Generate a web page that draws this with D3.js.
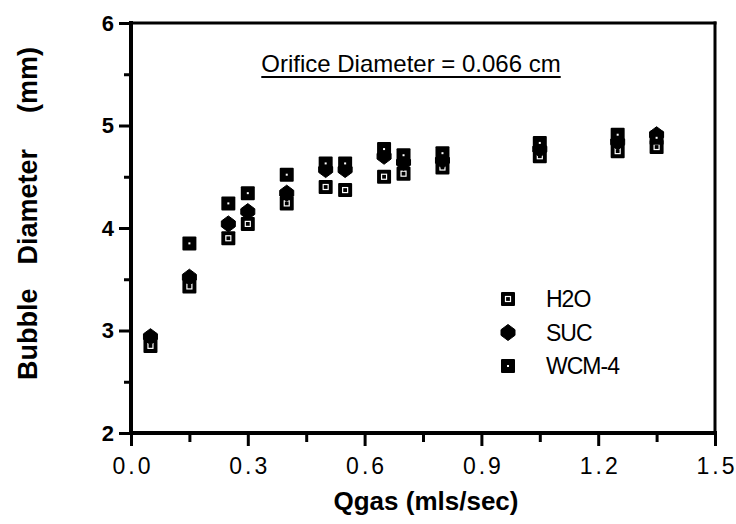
<!DOCTYPE html>
<html><head><meta charset="utf-8">
<script src="https://cdn.jsdelivr.net/npm/d3@7"></script>
<style>
html,body{margin:0;padding:0;background:#fff;}
svg{display:block;font-family:"Liberation Sans",Arial,Helvetica,sans-serif;}
</style></head><body>
<svg id="chart" width="736" height="524"></svg>
<script>
// Bubble diameter (mm) versus gas flow rate (mls/sec)
const qgas    = [0.05, 0.15, 0.25, 0.30, 0.40, 0.50, 0.55, 0.65, 0.70, 0.80, 1.05, 1.25, 1.35];
const h2o     = [2.85, 3.43, 3.90, 4.04, 4.24, 4.40, 4.37, 4.50, 4.53, 4.59, 4.70, 4.75, 4.79];
const suc     = [2.94, 3.52, 4.04, 4.16, 4.34, 4.57, 4.57, 4.70, 4.64, 4.66, 4.77, 4.84, 4.91];
const wcmQgas = [0.15, 0.25, 0.30, 0.40, 0.50, 0.55, 0.65, 0.70, 0.80, 1.05, 1.25, 1.35];
const wcm     = [3.85, 4.24, 4.34, 4.52, 4.63, 4.63, 4.77, 4.71, 4.73, 4.83, 4.91, 4.88];

const seriesNames = ["H2O", "SUC", "WCM-4"];
const xMajorTicks = [0, 0.3, 0.6, 0.9, 1.2, 1.5];
const xMinorTicks = [0.15, 0.45, 0.75, 1.05, 1.35];
const yMajorTicks = [2, 3, 4, 5, 6];
const yMinorTicks = [2.5, 3.5, 4.5, 5.5];
const titleText = "Orifice Diameter = 0.066 cm";
const xTitle = "Qgas (mls/sec)";
const yTitleWords = ["Bubble", "Diameter", "(mm)"];

const W = 736, H = 524;
const m = {left: 131, top: 23, right: 21, bottom: 91};
const svg = d3.select("#chart");

const x = d3.scaleLinear().domain([0, 1.5]).range([m.left, W - m.right]);
const y = d3.scaleLinear().domain([2, 6]).range([H - m.bottom, m.top]);

const FONT = "Liberation Sans, Arial, sans-serif";

// minor ticks
svg.append("g").attr("transform", `translate(0,${H - m.bottom})`)
  .call(d3.axisBottom(x).tickValues(xMinorTicks).tickSize(9).tickFormat(""))
  .call(g => g.select(".domain").remove())
  .call(g => g.selectAll("line").attr("stroke", "#000").attr("stroke-width", 3));
svg.append("g").attr("transform", `translate(${m.left},0)`)
  .call(d3.axisLeft(y).tickValues(yMinorTicks).tickSize(7).tickFormat(""))
  .call(g => g.select(".domain").remove())
  .call(g => g.selectAll("line").attr("stroke", "#000").attr("stroke-width", 3));

// major ticks + labels
svg.append("g").attr("transform", `translate(0,${H - m.bottom})`)
  .call(d3.axisBottom(x).tickValues(xMajorTicks).tickSize(13).tickPadding(12).tickFormat(d3.format(".1f")))
  .call(g => g.select(".domain").remove())
  .call(g => g.selectAll("line").attr("stroke", "#000").attr("stroke-width", 3))
  .call(g => g.selectAll("text").attr("fill", "#000").attr("font-size", 23)
    .attr("font-family", FONT).style("letter-spacing", "3px").attr("dx", 1.5));

svg.append("g").attr("transform", `translate(${m.left},0)`)
  .call(d3.axisLeft(y).tickValues(yMajorTicks).tickSize(12).tickPadding(5).tickFormat(d3.format("d")))
  .call(g => g.select(".domain").remove())
  .call(g => g.selectAll("line").attr("stroke", "#000").attr("stroke-width", 3))
  .call(g => g.selectAll("text").attr("fill", "#000").attr("font-size", 22)
    .attr("font-weight", "bold").attr("font-family", FONT));

// plot frame
const [xl, xr] = x.range();
const yb = y.range()[0], yt = y.range()[1];
const frame = svg.append("g").attr("stroke", "#000").attr("stroke-linecap", "square");
frame.append("line").attr("x1", xl).attr("x2", xr).attr("y1", yt).attr("y2", yt).attr("stroke-width", 3);
frame.append("line").attr("x1", xr).attr("x2", xr).attr("y1", yt).attr("y2", yb).attr("stroke-width", 3);
frame.append("line").attr("x1", xl).attr("x2", xr).attr("y1", yb).attr("y2", yb).attr("stroke-width", 4);
frame.append("line").attr("x1", xl).attr("x2", xl).attr("y1", yt).attr("y2", yb).attr("stroke-width", 4);

// marker shapes
const S = 14;
function squareMarker(g, inner) {
  g.append("rect").attr("x", -S / 2).attr("y", -S / 2).attr("width", S).attr("height", S)
    .attr("rx", 1).attr("fill", "#000");
  if (inner === "box") {
    g.append("rect").attr("x", -2.5).attr("y", -2.5).attr("width", 5).attr("height", 5)
      .attr("fill", "none").attr("stroke", "#fff").attr("stroke-width", 1.2);
  } else {
    g.append("rect").attr("x", -1).attr("y", -1).attr("width", 2).attr("height", 2).attr("fill", "#fff");
  }
}
const sucPath = "M0,-8L7,-2.8L7,2.8L0,8L-7,2.8L-7,-2.8Z";
function sucMarker(g) {
  g.append("path").attr("d", sucPath).attr("fill", "#000")
    .attr("stroke", "#000").attr("stroke-width", 1).attr("stroke-linejoin", "round");
}

const markers = [
  {name: seriesNames[0], xs: qgas, ys: h2o, draw: g => squareMarker(g, "box")},
  {name: seriesNames[1], xs: qgas, ys: suc, draw: sucMarker},
  {name: seriesNames[2], xs: wcmQgas, ys: wcm, draw: g => squareMarker(g, "dot")}
];

markers.forEach(s => {
  const pts = s.xs.map((q, i) => ({q, v: s.ys[i]}));
  svg.append("g").selectAll("g").data(pts).join("g")
    .attr("transform", d => `translate(${x(d.q)},${y(d.v)})`)
    .each(function () { s.draw(d3.select(this)); });
});

// legend
const legend = svg.append("g").attr("transform", "translate(508,299)");
markers.forEach((s, i) => {
  const row = legend.append("g").attr("transform", `translate(0,${i * 33.5})`);
  s.draw(row);
  row.append("text").attr("x", 38).attr("y", 8).attr("font-size", 23)
    .attr("letter-spacing", "-1px").attr("fill", "#000").text(s.name);
});

// title
const title = svg.append("text").attr("x", 411).attr("y", 72)
  .attr("text-anchor", "middle").attr("font-size", 24).attr("fill", "#000").text(titleText);
const tb = title.node().getBBox();
svg.append("line").attr("x1", tb.x).attr("x2", tb.x + tb.width).attr("y1", 77).attr("y2", 77)
  .attr("stroke", "#000").attr("stroke-width", 2);

// axis titles
svg.append("text").attr("x", 426).attr("y", 510).attr("text-anchor", "middle")
  .attr("font-size", 26).attr("font-weight", "bold").attr("fill", "#000").text(xTitle);

const ytitle = svg.append("text").attr("transform", "translate(37,380) rotate(-90)")
  .attr("font-size", 27).attr("font-weight", "bold").attr("fill", "#000");
ytitle.append("tspan").text(yTitleWords[0]);
ytitle.append("tspan").attr("dx", 24).text(yTitleWords[1]);
ytitle.append("tspan").attr("dx", 36).text(yTitleWords[2]);
</script>
</body></html>
